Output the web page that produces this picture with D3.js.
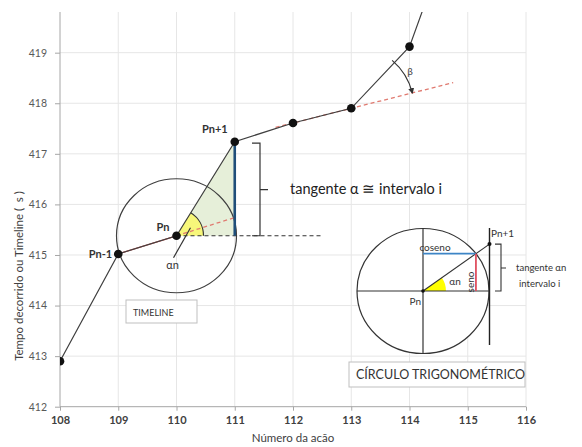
<!DOCTYPE html>
<html><head><meta charset="utf-8">
<script src="https://cdn.jsdelivr.net/npm/d3@7"></script>
<style>
body{margin:0;background:#fff;}
text{font-family:Lato,"Open Sans",sans-serif;}
</style>
</head><body>
<svg id="chart" width="582" height="447"></svg>
<script>
// ---- data ----
const actions = [108, 109, 110, 111, 112, 113, 114, 115];
const times   = [412.9, 415.02, 415.38, 417.24, 417.61, 417.9, 419.12, 422.3];
const xTickValues = [108, 109, 110, 111, 112, 113, 114, 115, 116];
const yTickValues = [412, 413, 414, 415, 416, 417, 418, 419];
const pointNames = ["Pn-1", "Pn", "Pn+1"];   // points at index 1,2,3
const xTitle = "Número da acão";
const yTitle = "Tempo decorrido ou Timeline (\u00a0\u00a0s )";

const svg = d3.select("#chart");
const W = 582, H = 447;
const left = 60, right = 526, bottom = 406.7, plotTop = 12;
const x = d3.scaleLinear().domain([108, 116]).range([left, right]);
const y = d3.scaleLinear().domain([412, 420]).range([bottom, 2.1]);

const pts = actions.map((a, i) => ({x: a, y: times[i]}));

svg.append("defs").append("clipPath").attr("id", "plot")
  .append("rect").attr("x", left).attr("y", plotTop).attr("width", W - left).attr("height", bottom - plotTop);

// grid
const grid = svg.append("g");
grid.selectAll("line.h").data(yTickValues.slice(1)).join("line")
  .attr("x1", left).attr("x2", right).attr("y1", d => y(d)).attr("y2", d => y(d))
  .attr("stroke", "#e6e6e6").attr("stroke-width", 1);
grid.selectAll("line.v").data(xTickValues.slice(1)).join("line")
  .attr("y1", plotTop).attr("y2", bottom).attr("x1", d => x(d)).attr("x2", d => x(d))
  .attr("stroke", "#e6e6e6").attr("stroke-width", 1);

// axes
const yAxis = svg.append("g").attr("transform", `translate(${left},0)`)
  .call(d3.axisLeft(y).tickValues(yTickValues).tickSize(5).tickPadding(8).tickFormat(d3.format("d")));
yAxis.select(".domain").remove();
yAxis.selectAll(".tick line").attr("stroke", "#a6a6a6");
yAxis.selectAll(".tick text").attr("fill", "#595959").style("font-size", "10.5px").style("font-family", "Lato");
svg.append("line").attr("x1", left).attr("x2", left).attr("y1", plotTop).attr("y2", bottom)
  .attr("stroke", "#a6a6a6");

const xAxis = svg.append("g").attr("transform", `translate(0,${bottom})`)
  .call(d3.axisBottom(x).tickValues(xTickValues).tickSize(4).tickPadding(6).tickFormat(d3.format("d")));
xAxis.select(".domain").remove();
xAxis.selectAll(".tick line").attr("stroke", "#a6a6a6");
xAxis.selectAll(".tick text").attr("fill", "#404040").style("font-size", "11px").style("font-weight", "bold").style("font-family", "Lato");
svg.append("line").attr("x1", left).attr("x2", right).attr("y1", bottom).attr("y2", bottom)
  .attr("stroke", "#a6a6a6");

svg.append("text").attr("x", (left + right) / 2).attr("y", 442).attr("text-anchor", "middle")
  .attr("fill", "#404040").style("font-size", "11.5px").text(xTitle);
svg.append("text").attr("transform", "translate(23,276) rotate(-90)").attr("text-anchor", "middle")
  .attr("fill", "#404040").style("font-size", "11.5px").text(yTitle);

const P = i => [x(pts[i].x), y(pts[i].y)];
const [p0x, p0y] = P(1), [pnx, pny] = P(2), [p1x, p1y] = P(3);

const plot = svg.append("g").attr("clip-path", "url(#plot)");

// green triangle under the tangent
plot.append("path").attr("d", `M${pnx},${pny}L${p1x},${pny}L${p1x},${p1y}Z`).attr("fill", "#e6efd9");

// circle 1
plot.append("ellipse").attr("cx", pnx).attr("cy", pny).attr("rx", 60).attr("ry", 57)
  .attr("fill", "none").attr("stroke", "#404040").attr("stroke-width", 1.2);

// yellow wedge
const ang = Math.atan2(pny - p1y, p1x - pnx);
const rw = 27;
plot.append("path").attr("d",
  `M${pnx},${pny}L${pnx + rw},${pny}A${rw},${rw} 0 0 0 ${pnx + rw * Math.cos(ang)},${pny - rw * Math.sin(ang)}Z`)
  .attr("fill", "#f7f77a").attr("stroke", "none");
plot.append("path").attr("d",
  `M${pnx + rw},${pny}A${rw},${rw} 0 0 0 ${pnx + rw * Math.cos(ang)},${pny - rw * Math.sin(ang)}`)
  .attr("fill", "none").attr("stroke", "#333").attr("stroke-width", 1.2);

// red extension Pn-1 -> Pn -> (111)
const s1 = (pts[2].y - pts[1].y) / (pts[2].x - pts[1].x);
plot.append("line").attr("x1", p0x).attr("y1", p0y).attr("x2", pnx).attr("y2", pny)
  .attr("stroke", "#c0504d").attr("stroke-width", 1.3);
plot.append("line").attr("x1", pnx).attr("y1", pny).attr("x2", x(111)).attr("y2", y(pts[2].y + s1 * (111 - pts[2].x)))
  .attr("stroke", "#e07a70").attr("stroke-width", 1.3).attr("stroke-dasharray", "4,3");

// horizontal dashed from Pn
plot.append("line").attr("x1", pnx).attr("y1", pny).attr("x2", 322).attr("y2", pny)
  .attr("stroke", "#333").attr("stroke-width", 1.2).attr("stroke-dasharray", "4,3");

// red dashed trend 112-113 extension
const s2 = (pts[5].y - pts[4].y) / (pts[5].x - pts[4].x);
plot.append("line")
  .attr("x1", x(111.7)).attr("y1", y(pts[4].y + s2 * (111.7 - pts[4].x)))
  .attr("x2", x(114.75)).attr("y2", y(pts[4].y + s2 * (114.75 - pts[4].x)))
  .attr("stroke", "#e07a70").attr("stroke-width", 1.3).attr("stroke-dasharray", "4,3");

// data line
plot.append("path").datum(pts)
  .attr("d", d3.line().x(d => x(d.x)).y(d => y(d.y)))
  .attr("fill", "none").attr("stroke", "#404040").attr("stroke-width", 1.2);

// vertical tangent segment
plot.append("line").attr("x1", p1x).attr("x2", p1x).attr("y1", pny).attr("y2", p1y)
  .attr("stroke", "#1f4e79").attr("stroke-width", 2.6);

// points
plot.selectAll("circle.pt").data(pts.slice(0, 7)).join("circle")
  .attr("cx", d => x(d.x)).attr("cy", d => y(d.y)).attr("r", 4.3).attr("fill", "#111");

// alpha pointer
svg.append("line").attr("x1", pnx + 14).attr("y1", pny - 8).attr("x2", pnx - 3).attr("y2", pny + 22)
  .attr("stroke", "#333").attr("stroke-width", 1.2);
svg.append("text").attr("x", pnx - 4).attr("y", pny + 33).attr("text-anchor", "middle")
  .attr("fill", "#333").style("font-size", "11px").text("αn");

// point labels
const lab = svg.append("g").attr("fill", "#333").style("font-size", "11px").style("font-weight", "bold");
lab.append("text").attr("x", p0x - 6).attr("y", p0y + 4).attr("text-anchor", "end").text(pointNames[0]);
lab.append("text").attr("x", pnx - 7).attr("y", pny - 5).attr("text-anchor", "end").text(pointNames[1]);
lab.append("text").attr("x", p1x - 7).attr("y", p1y - 9).attr("text-anchor", "end").text(pointNames[2]);

// brace 1
svg.append("path").attr("d", `M252,${p1y + 1.5}H260V${pny}H252M260,${(p1y + pny) / 2 + 1}H268`)
  .attr("fill", "none").attr("stroke", "#333").attr("stroke-width", 1.2);
svg.append("text").attr("x", 290).attr("y", 194).attr("fill", "#222").style("font-size", "14.5px")
  .text("tangente α ≅ intervalo i");

// beta arc
const [bx, by] = P(5);
const aStart = Math.atan2(-(P(6)[1] - by), P(6)[0] - bx) + 0.05;
const aEnd = Math.atan2(-(y(pts[5].y + s2) - by), x(114) - bx);
const rb = 63;
svg.append("defs").append("marker").attr("id", "arr").attr("viewBox", "0 0 10 10").attr("refX", 8).attr("refY", 5)
  .attr("markerWidth", 5).attr("markerHeight", 5).attr("orient", "auto")
  .append("path").attr("d", "M0,0L10,5L0,10Z").attr("fill", "#333");
svg.append("path").attr("d",
  `M${bx + rb * Math.cos(aStart)},${by - rb * Math.sin(aStart)}A${rb},${rb} 0 0 1 ${bx + rb * Math.cos(aEnd)},${by - rb * Math.sin(aEnd)}`)
  .attr("fill", "none").attr("stroke", "#333").attr("stroke-width", 1.2).attr("marker-end", "url(#arr)");
svg.append("text").attr("x", 410).attr("y", 75).attr("text-anchor", "middle").attr("fill", "#444")
  .style("font-size", "10px").text("β");

// TIMELINE box
svg.append("rect").attr("x", 126).attr("y", 300).attr("width", 71).attr("height", 23)
  .attr("fill", "#fff").attr("stroke", "#bfbfbf");
svg.append("text").attr("x", 133).attr("y", 315.5).attr("fill", "#333").style("font-size", "9px").text("TIMELINE");

// ---- trigonometric circle ----
const cx = 423, cy = 291, rx = 66, ry = 62.5, tx = 489.5;
const g2 = svg.append("g");
g2.append("ellipse").attr("cx", cx).attr("cy", cy).attr("rx", rx).attr("ry", ry)
  .attr("fill", "#fff").attr("stroke", "#333").attr("stroke-width", 1.2);
const th = 35.2 * Math.PI / 180;
const tr = 1 / Math.sqrt((Math.cos(th) / rx) ** 2 + (Math.sin(th) / ry) ** 2);
const qx = cx + tr * Math.cos(th), qy = cy - tr * Math.sin(th);
const ty = cy - (tx - cx) * Math.tan(th);
g2.append("path").attr("d", `M${cx},${cy}L${cx + 23},${cy}A23,23 0 0 0 ${cx + 23 * Math.cos(th)},${cy - 23 * Math.sin(th)}Z`)
  .attr("fill", "#ffff00");
g2.append("line").attr("x1", cx - rx).attr("x2", tx).attr("y1", cy).attr("y2", cy).attr("stroke", "#333").attr("stroke-width", 1.2);
g2.append("line").attr("x1", cx).attr("x2", cx).attr("y1", cy - ry).attr("y2", cy + ry).attr("stroke", "#333").attr("stroke-width", 1.2);
g2.append("line").attr("x1", tx).attr("x2", tx).attr("y1", 228).attr("y2", 345).attr("stroke", "#222").attr("stroke-width", 1.4);
g2.append("line").attr("x1", cx).attr("y1", cy).attr("x2", tx).attr("y2", ty).attr("stroke", "#333").attr("stroke-width", 1.1);
g2.append("line").attr("x1", cx).attr("x2", qx).attr("y1", qy).attr("y2", qy).attr("stroke", "#3d85c6").attr("stroke-width", 1.6);
g2.append("line").attr("x1", qx).attr("x2", qx).attr("y1", qy).attr("y2", cy).attr("stroke", "#e05060").attr("stroke-width", 1.8);
g2.append("circle").attr("cx", tx).attr("cy", ty).attr("r", 2).attr("fill", "#111");
g2.append("circle").attr("cx", cx).attr("cy", cy).attr("r", 1.8).attr("fill", "#111");
const t2 = g2.append("g").attr("fill", "#333").style("font-size", "10px");
t2.append("text").attr("x", 435).attr("y", 251).attr("text-anchor", "middle").text("coseno");
t2.append("text").attr("x", 455).attr("y", 285).attr("text-anchor", "middle").text("αn");
t2.append("text").attr("transform", `translate(${qx - 2},282) rotate(-90)`).attr("text-anchor", "middle").text("seno");
t2.append("text").attr("x", 421).attr("y", 305).attr("text-anchor", "end").text("Pn");
t2.append("text").attr("x", 491).attr("y", 237).text("Pn+1");
g2.append("path").attr("d", `M495,${ty}H501V${cy}H495M501,268H506`).attr("fill", "none").attr("stroke", "#333").attr("stroke-width", 1.1);
t2.append("text").attr("x", 516).attr("y", 271).style("font-size", "9.5px").text("tangente αn");
t2.append("text").attr("x", 519).attr("y", 287).style("font-size", "9.5px").text("intervalo i");

svg.append("rect").attr("x", 349).attr("y", 362).attr("width", 176).attr("height", 25)
  .attr("fill", "#fff").attr("stroke", "#bfbfbf");
svg.append("text").attr("x", 356).attr("y", 379).attr("fill", "#333").style("font-size", "12.5px").text("CÍRCULO TRIGONOMÉTRICO");
</script>
</body></html>
